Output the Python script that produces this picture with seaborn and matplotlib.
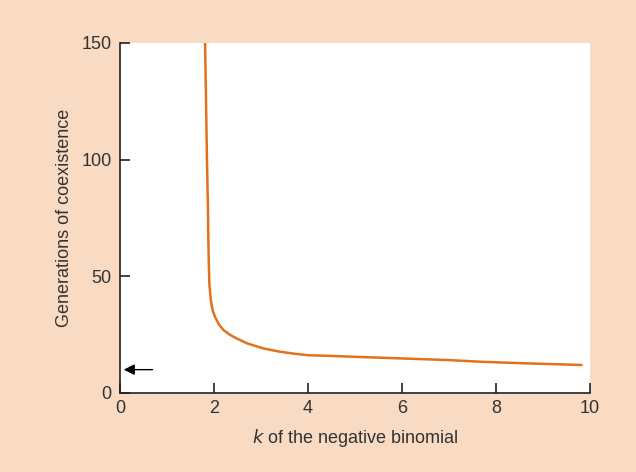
import matplotlib
matplotlib.use('Agg')
from matplotlib import pyplot as plt
import seaborn as sns
import pandas as pd

# values
k_values = [1.81, 1.83, 1.85, 1.87, 1.88, 1.89, 1.90, 1.93, 1.97, 2.02, 2.10, 2.20,
            2.35, 2.48, 2.70, 3.05, 3.40, 3.76, 4.00, 4.47, 5.00, 6.00, 7.00, 7.66, 8.50, 9.82]
generations = [150, 125, 100, 80, 65, 55, 47, 40, 35.5, 32.7, 29.5, 27,
               24.8, 23.4, 21.3, 19.1, 17.7, 16.7, 16.2, 15.9, 15.5, 14.8, 14.1, 13.4, 12.8, 12.0]
x_ticks = [0, 2, 4, 6, 8, 10]
y_ticks = [0, 50, 100, 150]
arrow_y = 10
arrow_from = 0.75

df = pd.DataFrame({'k': k_values, 'gen': generations})

sns.set_style('ticks')
plt.rcParams['font.family'] = ['Liberation Sans', 'DejaVu Sans']

bg = '#f9dac3'
txt = '#333333'
fs = 13
fig = plt.figure(figsize=(6.36, 4.72), dpi=100, facecolor=bg)
ax = fig.add_axes([0.1887, 0.1674, 0.739, 0.7415])

sns.lineplot(data=df, x='k', y='gen', ax=ax, color='#e2711d', linewidth=1.8, sort=False)

ax.annotate('', xy=(0.02, arrow_y), xytext=(arrow_from, arrow_y),
            arrowprops=dict(arrowstyle='-|>', color='black', lw=1.0, mutation_scale=16))

ax.set_xlim(0, 10)
ax.set_ylim(0, 150)
ax.set_xticks(x_ticks)
ax.set_yticks(y_ticks)
ax.tick_params(direction='in', length=7, width=1.2, labelsize=fs, color='#222222', labelcolor=txt)
ax.tick_params(axis='x', pad=5)
ax.tick_params(axis='y', pad=6)
for s in ['top', 'right']:
    ax.spines[s].set_visible(False)
for s in ['left', 'bottom']:
    ax.spines[s].set_linewidth(1.2)
    ax.spines[s].set_color('#222222')

ax.set_xlabel('$\\it{k}$ of the negative binomial', fontsize=fs, color=txt, labelpad=7)
ax.set_ylabel('Generations of coexistence', fontsize=fs, color=txt, labelpad=6)

fig.savefig('out.png', dpi=100, facecolor=bg)
